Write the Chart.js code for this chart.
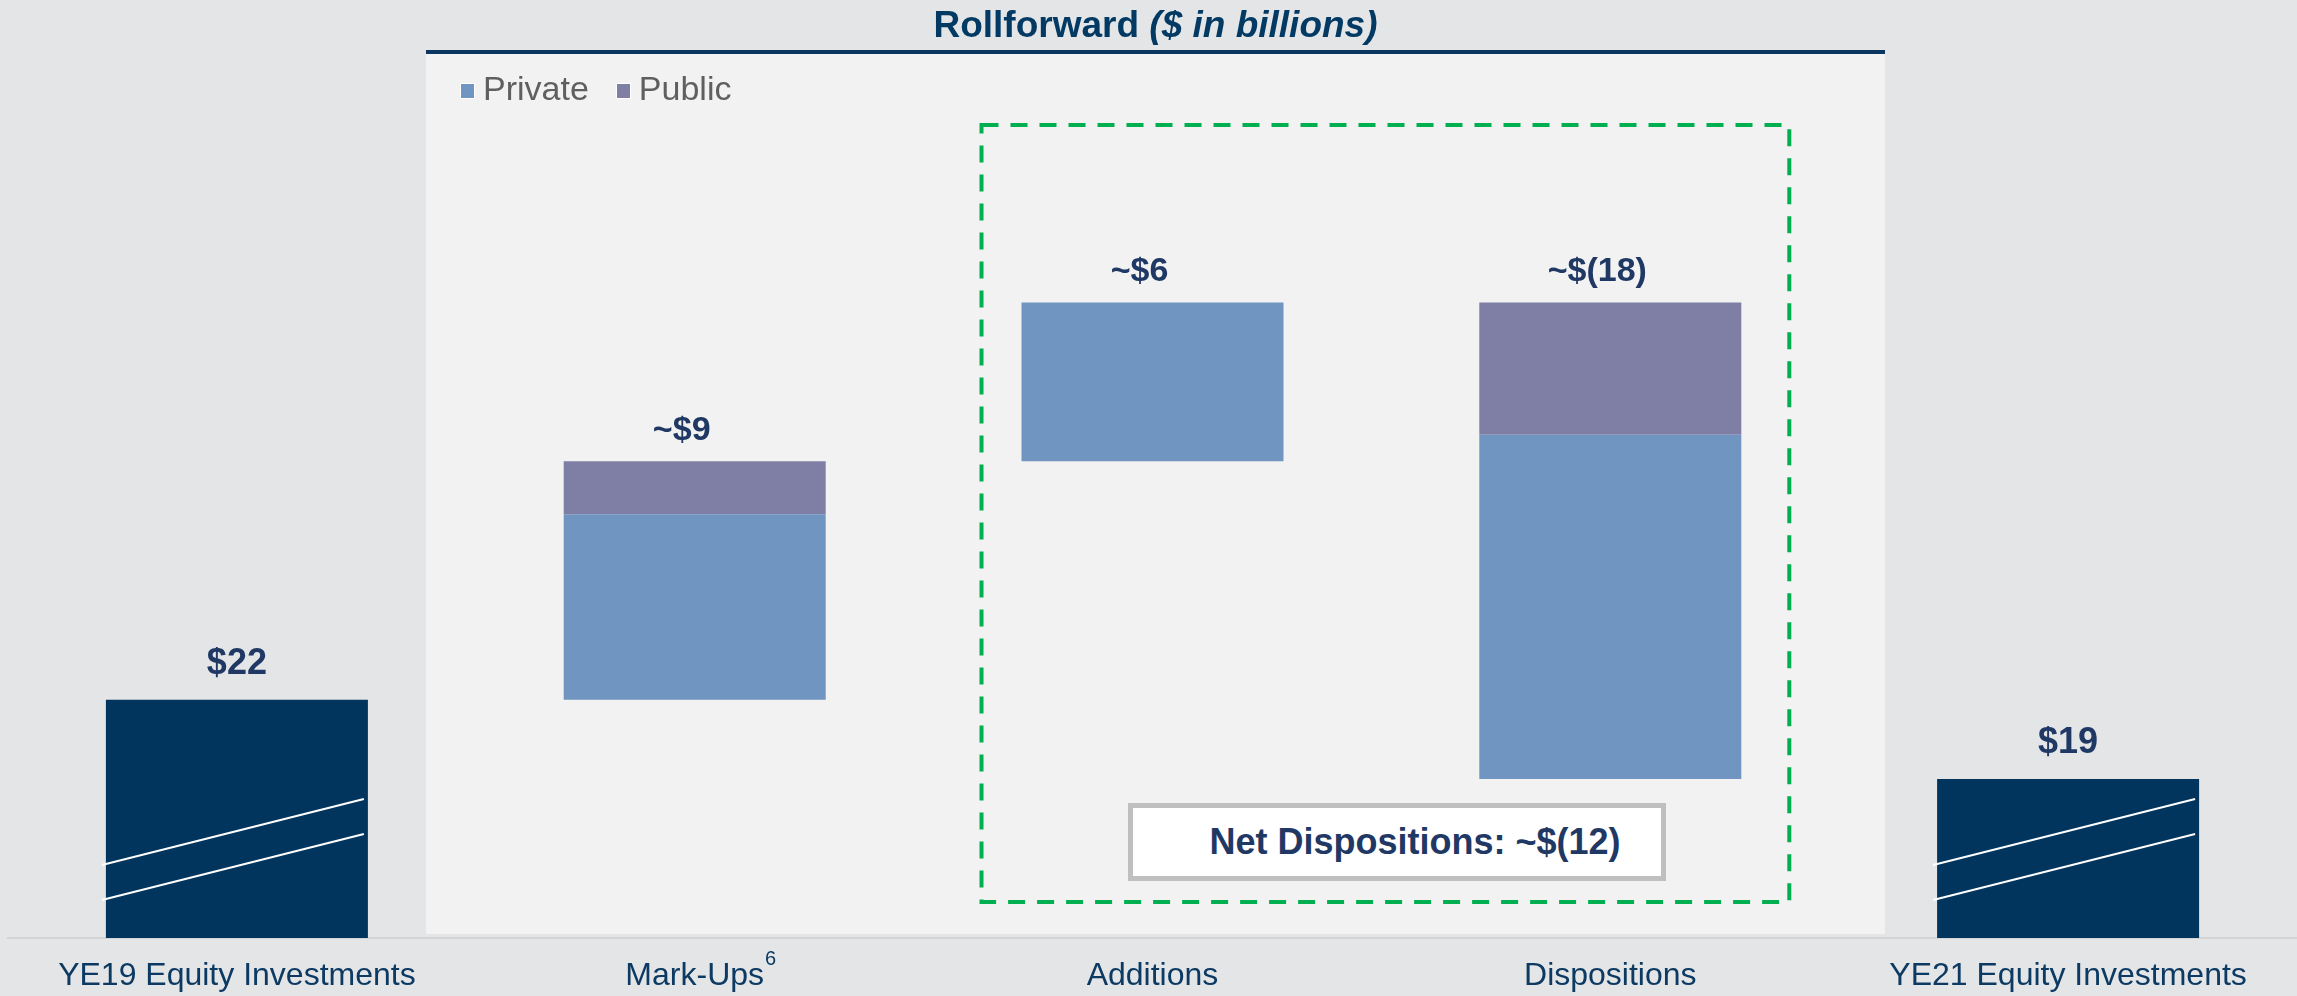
<!DOCTYPE html>
<html>
<head>
<meta charset="utf-8">
<script src="https://cdn.jsdelivr.net/npm/chart.js@4/dist/chart.umd.min.js"></script>
<style>
  html, body { margin:0; padding:0; background:#e4e5e7; overflow:hidden; }
  body { width:2297px; height:996px; position:relative; font-family:'Liberation Sans', Arial, sans-serif; }
  #panel { position:absolute; left:426px; top:50px; width:1459px; height:884px; background:#f2f2f2; border-top:4px solid #0b365f; box-sizing:border-box; }
  #wrap { position:absolute; left:0; top:0; width:2297px; height:996px; }
  #title { position:absolute; left:426px; width:1459px; top:6px; text-align:center; font-size:37px; line-height:37px; font-weight:bold; color:#033a64; }
  #legend { position:absolute; left:460px; top:71px; display:flex; align-items:center; font-size:34px; line-height:34px; color:#5f5f5f; }
  #legend .sw { width:13px; height:14px; border:1px solid #ffffff; margin-right:8px; margin-top:5px; }
  #legend .item { display:flex; align-items:center; margin-right:27px; }
  #net { position:absolute; left:1128px; top:803px; width:538px; height:78px; box-sizing:border-box; border:5px solid #bfbfbf; background:#ffffff; display:flex; align-items:center; justify-content:center; padding-left:36px; font-size:36px; font-weight:bold; color:#1f3864; }
</style>
</head>
<body>
<div id="panel"></div>
<div id="wrap"><canvas id="c"></canvas></div>
<div id="title">Rollforward <i>($ in billions)</i></div>
<div id="legend"></div>
<div id="net"></div>
<script>
// ---- data ($ in billions) ----
const categories = ['YE19 Equity Investments', 'Mark-Ups', 'Additions', 'Dispositions', 'YE21 Equity Investments'];
const totals = [22, null, null, null, 19];
const privateChange = [null, 7, 6, -13, null];
const publicChange = [null, 2, 0, -5, null];
const seriesNames = ['Private', 'Public'];
const footnotes = [null, '6', null, null, null];

// ---- derive floating ranges (waterfall) ----
const totalRanges = totals.map(v => v === null ? null : [0, v]);
const privRanges = [], pubRanges = [], deltas = [];
let running = 0;
categories.forEach((c, i) => {
  if (totals[i] !== null) { running = totals[i]; privRanges.push(null); pubRanges.push(null); deltas.push(null); return; }
  const p = privateChange[i] || 0, q = publicChange[i] || 0, d = p + q;
  const low = Math.min(running, running + d);
  privRanges.push(p ? [low, low + Math.abs(p)] : null);
  pubRanges.push(q ? [low + Math.abs(p), low + Math.abs(p) + Math.abs(q)] : null);
  deltas.push(d);
  running += d;
});
function fmtDelta(d) { return d < 0 ? '~$(' + Math.abs(d) + ')' : '~$' + d; }
const valueLabels = categories.map((c, i) => totals[i] !== null ? '$' + totals[i] : fmtDelta(deltas[i]));
const netDisp = deltas[2] + deltas[3];

const FONT = "'Liberation Sans', Arial, sans-serif";
const colors = { total: '#01355e', priv: '#6f95c0', pub: '#7f7fa6' };

document.getElementById('net').textContent = 'Net Dispositions: ' + fmtDelta(netDisp);
const lg = document.getElementById('legend');
[[seriesNames[0], colors.priv], [seriesNames[1], colors.pub]].forEach(([n, col]) => {
  const it = document.createElement('div'); it.className = 'item';
  const sw = document.createElement('div'); sw.className = 'sw'; sw.style.background = col;
  const tx = document.createElement('span'); tx.textContent = n;
  it.appendChild(sw); it.appendChild(tx); lg.appendChild(it);
});

const decor = {
  id: 'decor',
  afterDatasetsDraw(chart) {
    const { ctx, chartArea, scales: { x, y } } = chart;
    ctx.save();
    // break lines on total bars
    const meta0 = chart.getDatasetMeta(0);
    meta0.data.forEach((bar, i) => {
      if (totals[i] === null) return;
      const l = bar.x - bar.width / 2, r = bar.x + bar.width / 2;
      const b = chartArea.bottom;
      ctx.strokeStyle = '#ffffff'; ctx.lineWidth = 2;
      [0, 35].forEach(off => {
        ctx.beginPath();
        ctx.moveTo(l - 4, b - 73 + off);
        ctx.lineTo(r - 4, b - 139 + off);
        ctx.stroke();
      });
    });
    // value labels
    ctx.fillStyle = '#1f3864';
    ctx.textAlign = 'center'; ctx.textBaseline = 'middle';
    categories.forEach((c, i) => {
      const tops = [totalRanges[i], privRanges[i], pubRanges[i]].filter(Boolean).map(r => Math.max(r[0], r[1]));
      const top = Math.max(...tops);
      const py = y.getPixelForValue(top);
      const px = x.getPixelForValue(i);
      if (totals[i] !== null) {
        ctx.font = 'bold 36px ' + FONT;
        ctx.fillText(valueLabels[i], px, py - 36);
      } else {
        ctx.font = 'bold 34px ' + FONT;
        ctx.fillText(valueLabels[i], px - 13, py - 31);
      }
    });
    // footnote superscripts
    categories.forEach((c, i) => {
      if (!footnotes[i]) return;
      ctx.font = '32px ' + FONT;
      const w = ctx.measureText(c).width;
      ctx.font = '20px ' + FONT;
      ctx.fillStyle = '#0c3a62';
      ctx.textAlign = 'left';
      ctx.fillText(footnotes[i], x.getPixelForValue(i) + w / 2 + 1, chartArea.bottom + 21);
    });
    // green dashed box around Additions & Dispositions
    const bl = x.getPixelForValue(2) - 171, br = x.getPixelForValue(3) + 179;
    const bt = chartArea.top - 45, bb = chartArea.bottom - 36;
    ctx.strokeStyle = '#00b050'; ctx.lineWidth = 4; ctx.setLineDash([17, 12]);
    ctx.strokeRect(bl, bt, br - bl, bb - bt);
    ctx.restore();
  }
};

const common = { grouped: false, barPercentage: 0.5723, categoryPercentage: 1, borderWidth: 0 };
new Chart(document.getElementById('c'), {
  type: 'bar',
  data: {
    labels: categories,
    datasets: [
      Object.assign({ label: 'Total', data: totalRanges, backgroundColor: colors.total }, common),
      Object.assign({ label: seriesNames[0], data: privRanges, backgroundColor: colors.priv }, common),
      Object.assign({ label: seriesNames[1], data: pubRanges, backgroundColor: colors.pub }, common)
    ]
  },
  options: {
    responsive: true, maintainAspectRatio: false, animation: false,
    layout: { padding: { left: 8, right: 0, top: 170, bottom: 0 } },
    plugins: { legend: { display: false }, tooltip: { enabled: false }, title: { display: false } },
    scales: {
      x: {
        grid: { display: false, drawTicks: false },
        border: { display: true, color: '#d3d4d6', width: 2 },
        ticks: { color: '#0c3a62', font: { family: FONT, size: 32 }, padding: 19, maxRotation: 0, autoSkip: false },
        afterFit(s) { s.height = 58; }
      },
      y: { display: false, min: 13, max: 42 }
    }
  },
  plugins: [decor]
});
</script>
</body>
</html>
